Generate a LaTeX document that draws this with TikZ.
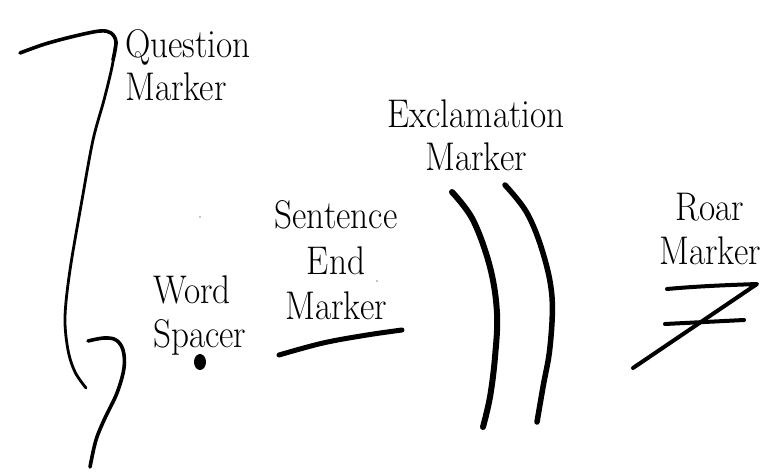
\documentclass[tikz,border=0pt]{standalone}
\usepackage{fontspec}
\newcommand{\nar}[1]{\scalebox{0.88}[1]{#1}}
\begin{document}
\begin{tikzpicture}[x=1pt,y=-1pt,
  lbl/.style={font=\fontsize{40}{44}\selectfont\addfontfeatures{FakeBold=2}, inner sep=0pt, anchor=base},
  ink/.style={line cap=round, line join=round, draw=black},
]
\useasboundingbox[fill=white] (0,0) rectangle (768,474);

% labels
\node[lbl, anchor=base west] (q1) at (125,57) {\nar{Question}};
\node[lbl, anchor=base west] (q2) at (125,100) {\nar{Marker}};
\node[lbl] (e1) at (476,127) {\nar{Exclamation}};
\node[lbl] (e2) at (476,170) {\nar{Marker}};
\node[lbl, anchor=base west] (w1) at (153,303) {\nar{Word}};
\node[lbl, anchor=base west] (w2) at (153,347) {\nar{Spacer}};
\node[lbl] (s1) at (336,228) {\nar{Sentence}};
\node[lbl] (s2) at (336,274) {\nar{End}};
\node[lbl] (s3) at (336,319) {\nar{Marker}};
\node[lbl] (r1) at (710,220) {\nar{Roar}};
\node[lbl] (r2) at (710,264) {\nar{Marker}};

% question marker
\draw[ink, line width=3.6] plot[smooth, tension=0.55] coordinates
  {(20,53) (45,44) (75,36) (100,31) (111,33) (116,42) (113,60)};
\draw[ink, line width=2.8] plot[smooth, tension=0.55] coordinates
  {(116,42) (112,67) (104,100)
   (93,140) (82,200) (70,270) (65,317) (68,350) (75,372) (86,388)};
\draw[ink, line width=3.6] plot[smooth, tension=0.6] coordinates
  {(88,341) (104,338) (116,340) (123,350) (124,368) (117,393) (105,418) (96,440) (90,467)};

% word spacer
\fill (200,362) ellipse (6 and 8);
\fill (200,217) circle (0.7);

% sentence end marker
\draw[ink, line width=5] plot[smooth, tension=0.6] coordinates
  {(279,355) (323,343) (367,335) (402,330)};
\fill (377,281) circle (0.7);

% exclamation marker
\draw[ink, line width=6] plot[smooth, tension=0.6] coordinates
  {(452,192) (473,220) (490,267) (497,313) (495,357) (490,397) (483,427)};
\draw[ink, line width=5.5] plot[smooth, tension=0.6] coordinates
  {(505,185) (527,213) (543,253) (552,297) (550,347) (543,387) (537,422)};

% roar marker
\draw[ink, line width=4] (667,289) .. controls (700,286) and (730,285) .. (757,284) -- (633,368);
\draw[ink, line width=4] (665,324) -- (744,320);
\end{tikzpicture}
\end{document}
